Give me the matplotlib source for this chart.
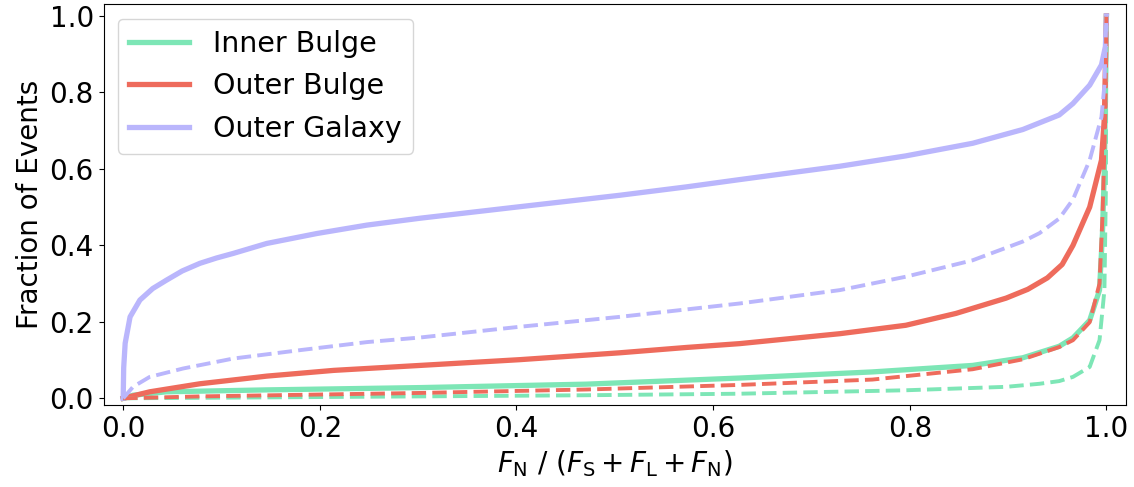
import matplotlib
matplotlib.use("Agg")
import matplotlib.pyplot as plt

labels = ["Inner Bulge", "Outer Bulge", "Outer Galaxy"]
colors = ["#7de6b6", "#ee6b5c", "#bab6fc"]

# Outer Galaxy
og_solid_x = [0, 0.0005, 0.002, 0.007, 0.017, 0.03, 0.044, 0.06, 0.078, 0.095, 0.112, 0.146,
              0.197, 0.248, 0.302, 0.403, 0.505, 0.573, 0.627, 0.729, 0.796, 0.864, 0.915,
              0.952, 0.966, 0.983, 0.995, 0.999, 1.0]
og_solid_y = [0, 0.08, 0.144, 0.213, 0.257, 0.287, 0.309, 0.333, 0.353, 0.367, 0.379, 0.405,
              0.431, 0.453, 0.471, 0.501, 0.531, 0.553, 0.572, 0.607, 0.634, 0.667, 0.703,
              0.741, 0.771, 0.819, 0.872, 0.92, 1.0]
og_dash_x = [0, 0.010, 0.027, 0.061, 0.112, 0.18, 0.248, 0.302, 0.403, 0.505, 0.627, 0.729,
             0.796, 0.864, 0.915, 0.932, 0.952, 0.966, 0.983, 0.995, 0.998, 1.0]
og_dash_y = [0, 0.030, 0.056, 0.078, 0.104, 0.126, 0.147, 0.159, 0.187, 0.213, 0.248, 0.283,
             0.318, 0.361, 0.410, 0.432, 0.47, 0.52, 0.623, 0.736, 0.82, 1.0]

# Outer Bulge
ob_solid_x = [0, 0.027, 0.078, 0.146, 0.214, 0.302, 0.403, 0.505, 0.573, 0.627, 0.729, 0.796,
              0.847, 0.898, 0.920, 0.940, 0.955, 0.966, 0.983, 0.995, 0.998, 1.0]
ob_solid_y = [0, 0.017, 0.038, 0.058, 0.073, 0.086, 0.101, 0.119, 0.133, 0.143, 0.169, 0.191,
              0.222, 0.262, 0.285, 0.315, 0.350, 0.40, 0.5, 0.623, 0.736, 1.0]
ob_dash_x = [0, 0.078, 0.302, 0.471, 0.627, 0.762, 0.864, 0.915, 0.952, 0.966, 0.983, 0.993,
             0.996, 0.999, 1.0]
ob_dash_y = [0, 0.005, 0.014, 0.023, 0.035, 0.049, 0.076, 0.102, 0.134, 0.152, 0.199, 0.3,
             0.475, 0.75, 1.0]

# Inner Bulge
ib_solid_x = [0, 0.01, 0.044, 0.146, 0.302, 0.471, 0.627, 0.762, 0.864, 0.915, 0.952, 0.966,
              0.983, 0.993, 0.996, 0.998, 1.0]
ib_solid_y = [0, 0.008, 0.017, 0.022, 0.028, 0.037, 0.053, 0.069, 0.086, 0.106, 0.136, 0.158,
              0.204, 0.283, 0.431, 0.605, 1.0]
ib_dash_x = [0, 0.302, 0.471, 0.627, 0.796, 0.898, 0.932, 0.952, 0.966, 0.983, 0.993, 0.998,
             0.9995, 1.0]
ib_dash_y = [0, 0.005, 0.008, 0.012, 0.021, 0.030, 0.038, 0.045, 0.056, 0.082, 0.152, 0.283,
             0.55, 1.0]

solid = [(ib_solid_x, ib_solid_y), (ob_solid_x, ob_solid_y), (og_solid_x, og_solid_y)]
dashed = [(ib_dash_x, ib_dash_y), (ob_dash_x, ob_dash_y), (og_dash_x, og_dash_y)]

plt.rcParams['font.size'] = 20
fig = plt.figure(figsize=(11.34, 4.87), dpi=100)
ax = fig.add_axes([0.0913, 0.168, 0.9017, 0.8228])

for (x, y), c, lab in zip(solid, colors, labels):
    ax.plot(x, y, color=c, lw=3.8, label=lab)
for (x, y), c in zip(dashed, colors):
    ax.plot(x, y, color=c, lw=2.8, ls="--")

ax.set_xlim(-0.02, 1.02)
ax.set_ylim(-0.018, 1.03)
ax.set_xticks([0, 0.2, 0.4, 0.6, 0.8, 1.0])
ax.set_yticks([0, 0.2, 0.4, 0.6, 0.8, 1.0])
ax.set_xlabel(r'$F_{\rm N}$ / $(F_{\rm S} + F_{\rm L} + F_{\rm N})$')
ax.set_ylabel('Fraction of Events')
ax.legend(loc='upper left', fontsize=20.5, handlelength=2.1, handletextpad=0.85)

fig.savefig("out.png", dpi=100)
